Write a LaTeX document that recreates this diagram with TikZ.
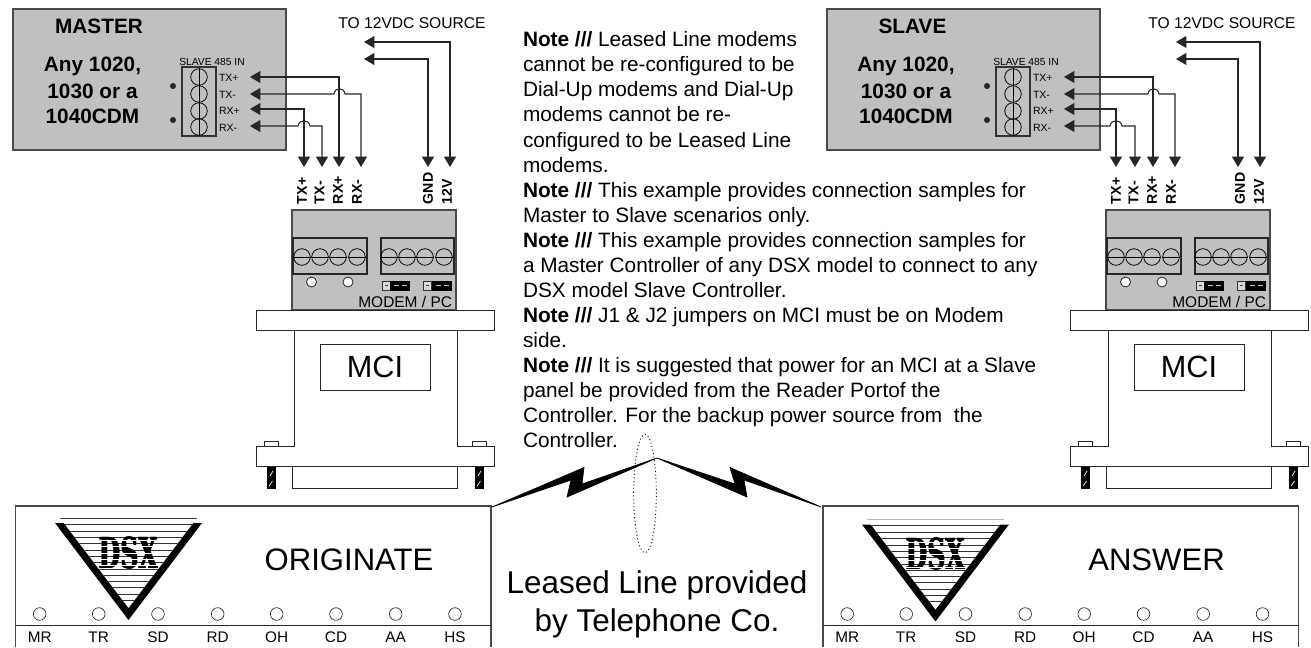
\documentclass[tikz,border=0pt]{standalone}
\usepackage{fontspec}
\setmainfont{Liberation Sans}
\newfontfamily\dsxfont{DejaVu Serif}
\usetikzlibrary{arrows.meta,shapes.geometric}
\definecolor{panelgray}{HTML}{C0C0C0}
\definecolor{edgegray}{HTML}{4A4A4A}
\newcommand{\fsz}[1]{\fontsize{#1}{#1}\selectfont}
\tikzset{
  txt/.style={inner sep=0pt,outer sep=0pt,text=black},
  base/.style={txt,anchor=base west},
  wire/.style={draw=black!85,line width=0.8pt,{Triangle[length=7.8pt,width=9pt]}-{Triangle[length=7.8pt,width=9pt]}},
  outline/.style={draw=black!85,line width=0.75pt},
  graybox/.style={fill=panelgray,draw=edgegray,line width=1pt},
  screw/.style={draw=black,line width=0.6pt,circle,minimum size=12.4pt,inner sep=0pt},
  vlabel/.style={txt,font=\bfseries\fsz{10.6pt},rotate=90,anchor=west},
  boxtitle/.style={txt,font=\bfseries\fsz{15.6pt}},
  bolt/.style={fill=black,draw=black,line width=0.5pt,line join=miter},
}
% #1 shift, #2 prefix, #3 extra left shift of the supply wires, #4 extra left shift of TX+ wire
\newcommand{\ctrlpanel}[4]{%
 \begin{scope}[shift={(#1,0)},name prefix=#2-]
  \draw[graybox] (13,9) rectangle (286,150);
  \draw[line width=0.8pt,draw=black!80] (182,67) rectangle (216,136);
  \foreach \y/\n in {77/a,94/b,111/c,127/d}{
    \node[screw] (scr\n) at (199,\y) {};
    \draw[line width=0.6pt] (scr\n.north) -- (scr\n.south);
  }
  \fill[black!85] (173,86) circle (3);
  \fill[black!85] (173,120) circle (3);
  \node[txt,font=\fsz{7.7pt}] at (212,61.5) {SLAVE 485 IN};
  \foreach \y/\t in {77/TX+,94/TX-,110/RX+,127/RX-}
    \node[base,font=\fsz{7.9pt}] at (219,\y+4) {\t};
  \coordinate (tipa) at (250,77);
  \coordinate (tipb) at (250,94);
  \coordinate (tipc) at (250,109);
  \coordinate (tipd) at (250,126);
  \coordinate (txp) at (304-#4,167);
  \coordinate (txm) at (322-#4/2,167);
  \coordinate (rxp) at (339,167);
  \coordinate (rxm) at (361,167);
  \coordinate (gnd) at (428-#3,167);
  \coordinate (vin) at (450-#3,167);
  \coordinate (srca) at (364-#3/2,42);
  \coordinate (srcb) at (364-#3/2,59);
  \draw[wire] (tipa) -| (rxp);
  \draw[wire] (tipc) -| (txp);
  \draw[wire] (tipb) -- (334,94) .. controls (335,87) and (344,87) .. (345,94) -| (rxm);
  \draw[wire] (tipd) -- (298-#4,126) .. controls (299-#4,119) and (309-#4,119) .. (310-#4,126) -| (txm);
  \draw[wire] (srca) -| (vin);
  \draw[wire] (srcb) -| (gnd);
  \node[txt,font=\fsz{11.7pt},anchor=center] at (412-#3,23) {TO 12VDC SOURCE};
  \foreach \x/\t in {302/TX+,319.5/TX-,338/RX+,357/RX-}
    \node[vlabel] at (\x,204) {\t};
  \foreach \x/\t in {428/GND,447/12V}
    \node[vlabel] at (\x-#3/2,204) {\t};
  \draw[graybox] (292,210) rectangle (456,310);
  \draw[line width=0.8pt,draw=black!85] (293,238) rectangle (367,274);
  \draw[line width=0.8pt,draw=black!85] (381,238) rectangle (454,274);
  \foreach \x/\n in {302/a,320/b,338/c,357/d,389/e,407/f,425/g,444/h}{
    \node[screw] (ts\n) at (\x,257) {};
    \draw[line width=0.6pt] (ts\n.west) -- (ts\n.east);
  }
  \foreach \x in {311.5,348}
    \draw[fill=white,draw=black!85,line width=0.6pt] (\x,282) circle (5);
  \foreach \x in {382,423.5}{
    \draw[fill=panelgray!60,draw=black!80,line width=0.5pt] (\x,281) rectangle ++(8,9.5);
    \fill[black] (\x+8,280.5) rectangle ++(20,10);
    \fill[panelgray] (\x+12,284.7) rectangle ++(5,1.6);
    \fill[panelgray] (\x+20,284.7) rectangle ++(5,1.6);
    \fill[black!75] (\x+2.5,284.7) rectangle ++(3,1.6);
  }
  \node[txt,font=\fsz{11.6pt},anchor=east] at (452,301.5) {MODEM / PC};
  \draw[outline,fill=white] (256,310) rectangle (494,330);
  \draw[outline] (294,330) -- (294,446.5) -- (256,446.5) -- (256,466) -- (494,466) -- (494,446.5) -- (457,446.5) -- (457,330);
  \draw[outline] (264,446.5) -- (264,441) -- (278,441) -- (278,446.5);
  \draw[outline] (472,446.5) -- (472,441) -- (486,441) -- (486,446.5);
  \draw[outline] (292.5,466) -- (292.5,488.5) -- (457.5,488.5) -- (457.5,466);
  \foreach \x in {267,475}{
    \fill[black] (\x,466.5) rectangle ++(8.5,22);
    \draw[white,line width=0.5pt] (\x+3,476) -- (\x+6,471);
    \draw[white,line width=0.5pt] (\x+2,486) -- (\x+5.5,481);
  }
  \node[draw=black!85,line width=0.75pt,fill=white,minimum width=82.5pt,minimum height=34.5pt,inner sep=0pt,font=\fsz{23pt}] (mci) at (375,367) {MCI};
 \end{scope}}
\newcommand{\logotext}{\scalebox{0.58}[1]{\bfseries DSX}}
\newcommand{\logo}[2]{%
 \begin{scope}[shift={(#1,#2)}]
  \fill[black] (55,523) -- (202,523) -- (128.5,620) -- cycle;
  \begin{scope}
   \clip (60,518) -- (197,518) -- (128.5,608) -- cycle;
   \fill[white] (50,510) rectangle (210,620);
   \foreach \y in {518,524.3,531,537.3,543.6,550,556.2,562.5,569,575,581,587.5,594,600}
     \draw[black!80,line width=0.6pt] (50,\y) -- (210,\y);
   \foreach \dx in {-0.5,0,0.5}
     \node[txt,font=\dsxfont\fsz{32pt}] at (128.5+\dx,552.5) {\logotext};
   \foreach \y in {540.5,546.8,553.1,559.4,565.6}
     \draw[white,line width=0.75pt] (98,\y) -- (159,\y);
  \end{scope}
 \end{scope}}
\newcommand{\modem}[3]{%
 \begin{scope}[shift={(#1,0)},name prefix=#2-]
  \draw[draw=edgegray,line width=0.9pt] (15.5,647) -- (15.5,506) -- (491,506) -- (491,647);
  \draw[draw=black!85,line width=0.7pt] (15.5,625.5) -- (491,625.5);
  \foreach \x/\t in {39.7/MR,98.7/TR,158/SD,217.7/RD,276.7/OH,336/CD,395.7/AA,455/HS}{
    \draw[draw=black!85,line width=0.5pt] (\x,614) circle (6.3);
    \node[txt,font=\fsz{11.5pt}] at (\x,637.5) {\t};
  }
  \node[txt,font=\fsz{23.3pt}] (nm) at (349,560) {#3};
 \end{scope}}
\begin{document}
\begin{tikzpicture}[x=0.75pt,y=-0.75pt]
 \useasboundingbox (0,0) rectangle (1311,647);
 \ctrlpanel{0}{m}{0}{0}
 \ctrlpanel{814}{s}{4}{2}
 \node[boxtitle] (mastername) at (99,26) {MASTER};
 \node[boxtitle] (ma) at (92.5,66.5) {Any 1020,};
 \node[boxtitle] (mb) at (92.5,91.5) {1030 or a};
 \node[boxtitle] (mc) at (92.5,116.5) {1040CDM};
 \node[boxtitle] (slavename) at (912.5,26) {SLAVE};
 \node[boxtitle] (sa) at (906,66.5) {Any 1020,};
 \node[boxtitle] (sb) at (906,91.5) {1030 or a};
 \node[boxtitle] (sc) at (906,116.5) {1040CDM};
 \def\nb{\textbf{Note ///} }
 \begin{scope}[every node/.style={base,font=\fsz{15.6pt}}]
  \foreach \n/\t [count=\i from 0] in {
    a/{\nb Leased Line modems},
    b/{cannot be re-configured to be},
    c/{Dial-Up modems and Dial-Up},
    d/{modems cannot be re-},
    e/{configured to be Leased Line},
    f/{modems.},
    g/{\nb This example provides connection samples for},
    h/{Master to Slave scenarios only.},
    i/{\nb This example provides connection samples for},
    j/{a Master Controller of any DSX model to connect to any},
    k/{DSX model Slave Controller.},
    l/{\nb J1 \& J2 jumpers on MCI must be on Modem},
    m/{side.},
    n/{\nb It is suggested that power for an MCI at a Slave},
    o/{panel be provided from the Reader Portof the},
    p/{Controller. For the backup power source from\ \ the},
    q/{Controller.}}
   \node (note\n) at (523,46.7+25.08*\i) {\t};
 \end{scope}
 \modem{0}{o}{ORIGINATE}
 \modem{807.5}{r}{ANSWER}
 \logo{0}{0}
 \logo{807}{1.5}
 \node[draw=black,dotted,line width=0.7pt,ellipse,minimum width=17pt,minimum height=89pt,inner sep=0pt] (loop) at (645,493.5) {};
 \coordinate (apex) at (657,458);
 \coordinate (ltip) at (492,507);
 \coordinate (rtip) at (821,507);
 \draw[bolt] (ltip) -- (584,467.5) -- (582,484) -- (apex) -- (567,497) -- (571,480) -- cycle;
 \draw[bolt] (apex) -- (747,497) -- (744,480) -- (rtip) -- (730,467.5) -- (735,484) -- cycle;
 \node[txt,font=\fsz{23.6pt},anchor=base] (ll1) at (657,593) {Leased Line provided};
 \node[txt,font=\fsz{23.6pt},anchor=base] (ll2) at (657,631.5) {by Telephone Co.};
\end{tikzpicture}
\end{document}
